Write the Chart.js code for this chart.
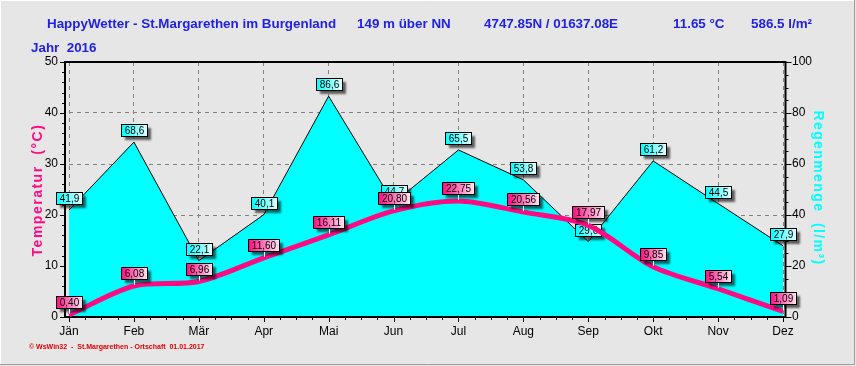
<!DOCTYPE html>
<html>
<head>
<meta charset="utf-8">
<script src="https://cdn.jsdelivr.net/npm/chart.js@4.4.1/dist/chart.umd.min.js"></script>
<style>
  html, body { margin: 0; padding: 0; background: #e6e6e6; }
  canvas { display: block; }
</style>
</head>
<body>
<canvas id="c" width="856" height="366"></canvas>
<script>
const months = ['Jän','Feb','Mär','Apr','Mai','Jun','Jul','Aug','Sep','Okt','Nov','Dez'];
const tempValues = [0.40, 6.08, 6.96, 11.60, 16.11, 20.80, 22.75, 20.56, 17.97, 9.85, 5.54, 1.09];
const rainValues = [41.9, 68.6, 22.1, 40.1, 86.6, 44.7, 65.5, 53.8, 29.6, 61.2, 44.5, 27.9];
const tempTicks = [0, 10, 20, 30, 40, 50];
const rainTicks = [0, 20, 40, 60, 80, 100];
const titleParts = [
  ['HappyWetter - St.Margarethen im Burgenland', 47],
  ['149 m über NN', 357],
  ['4747.85N / 01637.08E', 484],
  ['11.65 °C', 673],
  ['586.5 l/m²', 751]
];
const yearText = 'Jahr  2016';
const footerText = '© WsWin32  -  St.Margarethen - Ortschaft  01.01.2017';
const tempTitle = 'Temperatur  (°C)';
const rainTitle = 'Regenmenge  (l/m³)';

const FONT = '"Liberation Sans", Arial, sans-serif';
const PINK = '#ff0a82';
const CYAN = '#00ffff';
const BLUE = '#2121e6';

function drawLabel(ctx, px, py, text, kind) {
  ctx.save();
  ctx.font = '10px ' + FONT;
  const tw = ctx.measureText(text).width;
  const w = Math.round(tw + 7), h = 12;
  const gap = kind === 'temp' ? 7 : 6;
  const x = Math.round(px - w / 2) + 0.5;
  const y = Math.round(py - gap - h) + 0.5;
  const g = ctx.createLinearGradient(x, 0, x + w, 0);
  if (kind === 'temp') { g.addColorStop(0, PINK); g.addColorStop(1, '#ffe6f2'); }
  else { g.addColorStop(0, CYAN); g.addColorStop(1, '#e6ffff'); }
  ctx.shadowColor = 'rgba(0,0,0,0.6)';
  ctx.shadowBlur = 2;
  ctx.shadowOffsetX = 3;
  ctx.shadowOffsetY = 3;
  ctx.fillStyle = g;
  ctx.fillRect(x, y, w, h);
  ctx.shadowColor = 'transparent';
  ctx.strokeStyle = '#000';
  ctx.lineWidth = 1;
  ctx.strokeRect(x, y, w, h);
  if (kind === 'temp') {
    ctx.strokeStyle = '#fff';
    ctx.beginPath();
    ctx.moveTo(Math.round(px) + 0.5, y + h + 0.5);
    ctx.lineTo(Math.round(px) + 0.5, py - 1);
    ctx.stroke();
  }
  ctx.fillStyle = '#000';
  ctx.textAlign = 'center';
  ctx.textBaseline = 'middle';
  ctx.fillText(text, x + w / 2, y + h / 2 + 0.5);
  ctx.restore();
}

function drawFrame(chart) {
  const ctx = chart.ctx;
  const a = chart.chartArea;
  const xs = chart.scales.x, ys = chart.scales.y, y1 = chart.scales.y1;
  const L = a.left - 4, R = a.right + 2.5, T = a.top, B = a.bottom;
  ctx.save();
  ctx.strokeStyle = '#000';
  ctx.lineWidth = 1;
  for (let v = 0; v <= 50; v += 2) {
    const yy = Math.round(ys.getPixelForValue(v)) + 0.5;
    const len = (v % 10 === 0) ? 5 : 3;
    ctx.beginPath(); ctx.moveTo(L - len, yy); ctx.lineTo(L, yy); ctx.stroke();
  }
  for (let v = 0; v <= 100; v += 5) {
    const yy = Math.round(y1.getPixelForValue(v)) + 0.5;
    const len = (v % 20 === 0) ? 6 : 3;
    ctx.beginPath(); ctx.moveTo(R, yy); ctx.lineTo(R + len, yy); ctx.stroke();
  }
  for (let i = 0; i < months.length; i++) {
    for (let q = 0; q < 4; q++) {
      if (i === months.length - 1 && q > 0) break;
      const p0 = xs.getPixelForValue(i);
      const p1 = i < months.length - 1 ? xs.getPixelForValue(i + 1) : p0;
      const xx = Math.round(p0 + (p1 - p0) * q / 4) + 0.5;
      const len = q === 0 ? 5 : 3;
      ctx.beginPath(); ctx.moveTo(xx, B); ctx.lineTo(xx, B + len); ctx.stroke();
    }
  }
  ctx.lineWidth = 2;
  ctx.beginPath();
  ctx.moveTo(L, T); ctx.lineTo(R, T);
  ctx.moveTo(L, T - 1); ctx.lineTo(L, B + 1);
  ctx.moveTo(R, T - 1); ctx.lineTo(R, B + 1);
  ctx.moveTo(L - 1, B); ctx.lineTo(R + 1, B);
  ctx.stroke();
  ctx.restore();
}

const decor = {
  id: 'decor',
  beforeDraw(chart) {
    const ctx = chart.ctx;
    const W = chart.width, H = chart.height;
    ctx.save();
    ctx.fillStyle = '#e6e6e6';
    ctx.fillRect(0, 0, W, H);
    ctx.strokeStyle = '#a0a0a0';
    ctx.lineWidth = 1;
    ctx.beginPath();
    ctx.moveTo(854.5, 0); ctx.lineTo(854.5, 364.5); ctx.lineTo(0, 364.5);
    ctx.stroke();
    ctx.strokeStyle = '#ffffff';
    ctx.beginPath();
    ctx.moveTo(0.5, 364); ctx.lineTo(0.5, 0.5); ctx.lineTo(854, 0.5);
    ctx.stroke();
    ctx.fillStyle = BLUE;
    ctx.font = 'bold 13.4px ' + FONT;
    ctx.textBaseline = 'middle';
    ctx.textAlign = 'left';
    titleParts.forEach(([t, x]) => ctx.fillText(t, x, 24));
    ctx.fillText(yearText, 31, 48);
    ctx.fillStyle = '#e00000';
    ctx.font = 'bold 7px ' + FONT;
    ctx.letterSpacing = '0px';
    ctx.fillText(footerText, 29, 347);
    ctx.font = 'bold 14px ' + FONT;
    ctx.textAlign = 'center';
    ctx.fillStyle = PINK;
    ctx.save();
    ctx.translate(38, 190);
    ctx.rotate(-Math.PI / 2);
    ctx.letterSpacing = '1.5px';
    ctx.fillText(tempTitle, 0, 0);
    ctx.restore();
    ctx.fillStyle = CYAN;
    ctx.save();
    ctx.translate(818, 188);
    ctx.rotate(Math.PI / 2);
    ctx.letterSpacing = '1.4px';
    ctx.fillText(rainTitle, 0, 0);
    ctx.restore();
    ctx.restore();
  },
  afterDatasetDraw(chart, args) {
    const ctx = chart.ctx;
    const meta = args.meta;
    if (args.index === 1) {
      drawFrame(chart);
      meta.data.forEach((pt, i) => {
        drawLabel(ctx, pt.x, pt.y, rainValues[i].toFixed(1).replace('.', ','), 'rain');
      });
    } else if (args.index === 0) {
      meta.data.forEach((pt, i) => {
        drawLabel(ctx, pt.x, pt.y, tempValues[i].toFixed(2).replace('.', ','), 'temp');
      });
    }
  }
};

new Chart(document.getElementById('c'), {
  type: 'line',
  data: {
    labels: months,
    datasets: [
      {
        label: 'Temperatur',
        data: tempValues,
        yAxisID: 'y',
        borderColor: PINK,
        borderWidth: 5,
        pointRadius: 0,
        tension: 0.3,
        fill: false,
        order: 0
      },
      {
        label: 'Regenmenge',
        data: rainValues,
        yAxisID: 'y1',
        borderColor: '#000',
        borderWidth: 1,
        backgroundColor: CYAN,
        pointRadius: 0,
        tension: 0,
        fill: 'origin',
        order: 1
      }
    ]
  },
  options: {
    responsive: false,
    animation: false,
    devicePixelRatio: 1,
    layout: { padding: { top: 62, left: 0, right: 0, bottom: 0 } },
    plugins: { legend: { display: false }, tooltip: { enabled: false }, title: { display: false } },
    scales: {
      x: {
        type: 'category',
        offset: false,
        grid: { color: '#808080', lineWidth: 1, drawTicks: false },
        border: { display: false, dash: [4, 4] },
        ticks: { color: '#000', font: { family: FONT, size: 12 }, padding: 7, maxRotation: 0, autoSkip: false },
        afterFit(s) { s.height = 49; }
      },
      y: {
        position: 'left',
        min: 0, max: 50,
        afterBuildTicks(s) { s.ticks = tempTicks.map(v => ({ value: v })); },
        grid: { color: '#808080', lineWidth: 1, drawTicks: false },
        border: { display: false, dash: [4, 4] },
        ticks: { color: '#000', font: { family: FONT, size: 12 }, padding: 11 },
        afterFit(s) { s.width = 69; }
      },
      y1: {
        position: 'right',
        min: 0, max: 100,
        afterBuildTicks(s) { s.ticks = rainTicks.map(v => ({ value: v })); },
        grid: { display: false, drawTicks: false },
        border: { display: false },
        ticks: { color: '#000', font: { family: FONT, size: 12 }, padding: 9 },
        afterFit(s) { s.width = 73; }
      }
    }
  },
  plugins: [decor]
});
</script>
</body>
</html>
